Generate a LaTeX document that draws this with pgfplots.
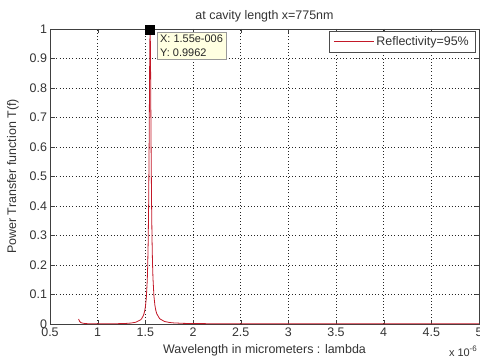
\documentclass[border=0pt]{standalone}
\usepackage{fontspec}
\setmainfont{Liberation Sans}
\usepackage{pgfplots}
\pgfplotsset{compat=1.18}
\definecolor{myred}{RGB}{195,25,40}
\definecolor{tipbg}{RGB}{255,255,225}
\begin{document}
\begin{tikzpicture}
\begin{axis}[
  name=ax,
  scale only axis,
  width=429bp, height=295bp,
  xmin=0.5, xmax=5, ymin=0, ymax=1,
  xtick={0.5,1,...,5}, ytick={0,0.1,...,1},
  /pgf/number format/assume math mode=true,
  tick label style={font=\fontsize{12.5}{14}\selectfont, text=black!80},
  yticklabel style={xshift=0.5bp},
  label style={font=\fontsize{12.5}{14}\selectfont, text=black!80},
  title style={font=\fontsize{12.5}{14}\selectfont, text=black!80,
    at={(axis description cs:0.5,1)}, anchor=base, yshift=3.5bp},
  title={at cavity length x=775nm},
  xlabel={Wavelength in micrometers : lambda},
  ylabel={Power Transfer function T(f)},
  xlabel style={at={(axis description cs:0.5,0)}, anchor=center, yshift=-26bp},
  ylabel style={at={(axis description cs:0,0.5)}, anchor=center, yshift=37bp},
  tick align=inside, major tick length=4.5bp,
  axis line style={black!75},
  tick style={black!75},
  grid=major,
  grid style={black!85, dash pattern=on 0.8pt off 2.4pt, line width=0.6pt},
  clip mode=individual,
  legend style={at={(0.9907,0.993)}, anchor=north east, draw=black!70,
    font=\fontsize{12.5}{14}\selectfont, inner xsep=4bp, inner ysep=3bp, text=black!80},
  legend cell align=left,
  legend image code/.code={\draw[draw=myred, line width=0.9bp] (0bp,0bp) -- (40bp,0bp);},
]
\addplot[myred, line width=0.8bp] coordinates {
(0.80,0.0170) (0.81,0.00907) (0.82,0.00572) (0.83,0.00401) (0.85,0.00237)
(0.90,0.00084) (1.00,0.00067) (1.10,0.000715) (1.20,0.00104) (1.30,0.00203)
(1.35,0.00326) (1.40,0.00600) (1.45,0.01404) (1.46,0.01745) (1.48,0.02915)
(1.49,0.0397) (1.50,0.0568) (1.51,0.0869) (1.52,0.1463) (1.525,0.1989)
(1.53,0.2807) (1.535,0.4112) (1.54,0.6126) (1.545,0.8642) (1.5475,0.9623)
(1.55,0.9962) (1.5525,0.9626) (1.555,0.8657) (1.56,0.6187) (1.565,0.4206)
(1.57,0.2913) (1.575,0.2093) (1.58,0.1562) (1.59,0.0955) (1.60,0.0641)
(1.61,0.0460) (1.62,0.0347) (1.65,0.01804) (1.70,0.00871) (1.75,0.0053)
(1.80,0.00367) (1.90,0.00219) (2.00,0.00156) (2.20,0.00103) (2.50,0.00076)
(3.10,0.000657) (3.50,0.00068) (4.00,0.000747) (4.50,0.000843) (5.00,0.000961)
};
\addlegendentry{Reflectivity=95\%}
\addplot[only marks, mark=square*, mark size=4.5bp, black, forget plot] coordinates {(1.55,0.9962)};
\node[anchor=north west, fill=tipbg, draw=black!40, align=left,
  font=\fontsize{11}{13.5}\selectfont, text=black!85, inner sep=3bp] at (axis cs:1.622,0.99)
  {X: 1.55e-006\\Y: 0.9962};
\end{axis}
\node[anchor=base east, font=\fontsize{11}{12}\selectfont, text=black!80, inner sep=0pt]
  at ([xshift=-2bp,yshift=-32bp]ax.south east) {x 10\raisebox{0.75ex}{\fontsize{8}{9}\selectfont -6}};
\pgfresetboundingbox
\path ([xshift=-50bp,yshift=-34bp]ax.south west) rectangle ([xshift=1bp,yshift=29bp]ax.north east);
\end{tikzpicture}
\end{document}
